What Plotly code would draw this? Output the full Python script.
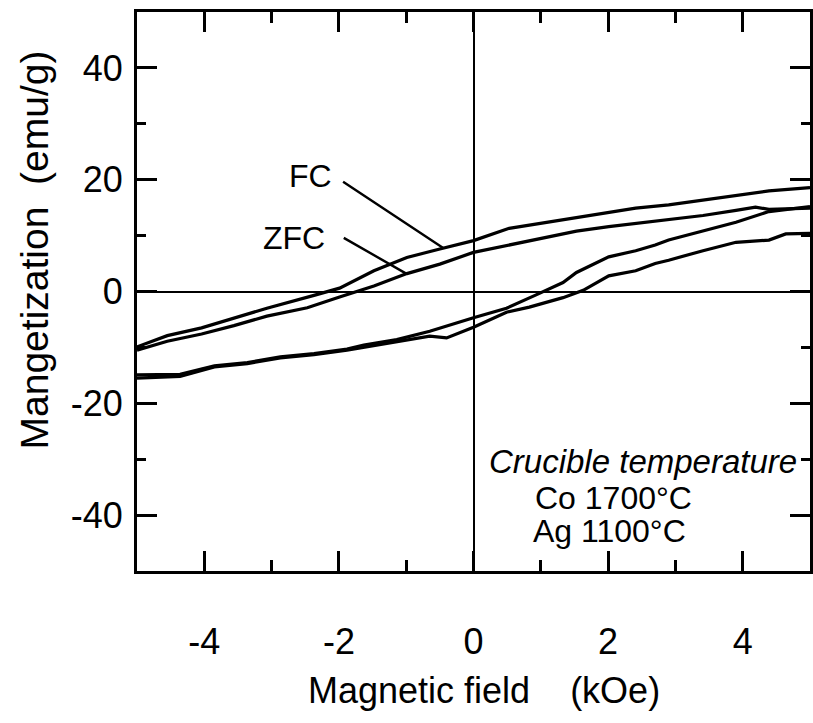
import plotly.graph_objects as go

# ---- data (field in kOe, magnetization in emu/g) ----
fc_desc_h = [-5.0, -4.55, -4.04, -3.56, -3.07, -2.37, -1.99, -1.48, -0.99, -0.50, 0.0,
             0.53, 1.04, 1.53, 2.01, 2.41, 2.90, 3.41, 3.90, 4.39, 5.0]
fc_desc_m = [-9.9, -7.9, -6.5, -4.7, -3.0, -0.7, 0.6, 3.7, 6.1, 7.6, 9.1,
             11.3, 12.3, 13.3, 14.2, 14.9, 15.5, 16.4, 17.2, 18.0, 18.6]

zfc_desc_h = [-5.0, -4.55, -4.04, -3.56, -3.07, -2.47, -1.99, -1.48, -0.99, -0.50, 0.0,
              0.53, 1.04, 1.53, 2.01, 2.41, 2.90, 3.41, 3.90, 4.19, 4.39, 5.0]
zfc_desc_m = [-10.5, -8.9, -7.6, -6.1, -4.4, -2.9, -1.0, 1.0, 3.2, 4.9, 7.0,
              8.3, 9.6, 10.8, 11.6, 12.2, 12.8, 13.6, 14.5, 15.1, 14.7, 14.9]

fc_asc_h = [-5.0, -4.36, -3.85, -3.36, -2.87, -2.37, -1.88, -1.63, -1.14, -0.65, 0.0,
            0.49, 0.93, 1.33, 1.53, 2.01, 2.41, 2.70, 2.90, 3.41, 3.90, 4.39, 5.0]
fc_asc_m = [-14.9, -14.8, -13.3, -12.7, -11.7, -11.1, -10.3, -9.6, -8.6, -7.1, -4.7,
            -3.0, -0.6, 1.6, 3.4, 6.2, 7.3, 8.3, 9.2, 10.9, 12.4, 14.3, 15.2]

zfc_asc_h = [-5.0, -4.36, -3.85, -3.36, -2.87, -2.37, -1.88, -1.63, -1.14, -0.65, -0.40, 0.0,
             0.49, 0.83, 1.33, 1.63, 2.01, 2.41, 2.70, 2.90, 3.41, 3.90, 4.39, 4.64, 5.0]
zfc_asc_m = [-15.5, -15.2, -13.5, -12.9, -11.9, -11.3, -10.5, -10.0, -9.0, -8.0, -8.3, -6.4,
             -3.7, -2.8, -1.1, 0.2, 2.8, 3.7, 5.0, 5.6, 7.3, 8.8, 9.2, 10.3, 10.4]

x_major_ticks = [-4, -2, 0, 2, 4]
x_minor_ticks = [-3, -1, 1, 3]
y_major_ticks = [-40, -20, 0, 20, 40]
y_minor_ticks = [-30, -10, 10, 30]

FONT = "Liberation Sans, Arial, Helvetica, sans-serif"
BLACK = "black"

fig = go.Figure()
for hx, my in [(fc_desc_h, fc_desc_m), (zfc_desc_h, zfc_desc_m),
               (fc_asc_h, fc_asc_m), (zfc_asc_h, zfc_asc_m)]:
    fig.add_trace(go.Scatter(x=hx, y=my, mode="lines",
                             line=dict(color=BLACK, width=3.2), hoverinfo="skip"))

axis_common = dict(
    showline=True, linecolor=BLACK, linewidth=2.8, mirror="ticks",
    ticks="inside", ticklen=20, tickwidth=2.6, tickcolor=BLACK,
    showgrid=False, zeroline=True, zerolinecolor=BLACK, zerolinewidth=2,
    tickfont=dict(family=FONT, size=36, color=BLACK),
)

fig.update_xaxes(range=[-5, 5], tickmode="array", tickvals=x_major_ticks,
                 ticktext=[("-" if v < 0 else "") + str(abs(v)) for v in x_major_ticks],
                 minor=dict(tickmode="array", tickvals=x_minor_ticks, ticks="inside",
                            ticklen=11, tickwidth=2.6, tickcolor=BLACK, showgrid=False),
                 ticklabelstandoff=37, **axis_common)
fig.update_yaxes(range=[-50, 50], tickmode="array", tickvals=y_major_ticks,
                 ticktext=[("-" if v < 0 else "") + str(abs(v)) for v in y_major_ticks],
                 minor=dict(tickmode="array", tickvals=y_minor_ticks, ticks="inside",
                            ticklen=9, tickwidth=2.6, tickcolor=BLACK, showgrid=False),
                 ticklabelstandoff=4, **axis_common)

nb = "\u00a0"
annotations = [
    # axis titles
    dict(text="Magnetic field" + nb * 4 + "(kOe)", xref="paper", yref="paper",
         x=(486 - 137) / 676, y=(571 - 690) / 559, xanchor="center", yanchor="middle",
         showarrow=False, font=dict(family=FONT, size=36, color=BLACK)),
    dict(text="Mangetization" + nb * 2 + "(emu/g)", xref="paper", yref="paper",
         x=(34 - 137) / 676, y=(571 - 250) / 559, xanchor="center", yanchor="middle",
         textangle=-90, showarrow=False, font=dict(family=FONT, size=39, color=BLACK)),
    # curve labels
    dict(text="FC", x=-2.42, y=20.7, xref="x", yref="y", showarrow=False,
         font=dict(family=FONT, size=32, color=BLACK)),
    dict(text="ZFC", x=-2.67, y=9.6, xref="x", yref="y", showarrow=False,
         font=dict(family=FONT, size=32, color=BLACK)),
    # pointer lines
    dict(text="", x=-0.45, y=7.8, ax=-1.96, ay=19.8, xref="x", yref="y",
         axref="x", ayref="y", showarrow=True, arrowhead=0, arrowwidth=2.4,
         arrowcolor=BLACK, standoff=0, startstandoff=0),
    dict(text="", x=-1.0, y=3.2, ax=-1.95, ay=9.75, xref="x", yref="y",
         axref="x", ayref="y", showarrow=True, arrowhead=0, arrowwidth=2.4,
         arrowcolor=BLACK, standoff=0, startstandoff=0),
    # crucible info
    dict(text="<i>Crucible temperature</i>", xref="paper", yref="paper",
         x=(489 - 137) / 676, y=(571 - 462) / 559, xanchor="left", yanchor="middle",
         showarrow=False, font=dict(family=FONT, size=33, color=BLACK)),
    dict(text="Co 1700°C", xref="paper", yref="paper",
         x=(535 - 137) / 676, y=(571 - 498) / 559, xanchor="left", yanchor="middle",
         showarrow=False, font=dict(family=FONT, size=32, color=BLACK)),
    dict(text="Ag 1100°C", xref="paper", yref="paper",
         x=(533 - 137) / 676, y=(571 - 531) / 559, xanchor="left", yanchor="middle",
         showarrow=False, font=dict(family=FONT, size=32, color=BLACK)),
]

fig.update_layout(
    width=813, height=723, autosize=False,
    margin=dict(l=137, r=0, t=12, b=152, pad=0),
    plot_bgcolor="white", paper_bgcolor="white",
    showlegend=False, annotations=annotations,
    font=dict(family=FONT, color=BLACK),
)

fig.write_html("out.html", config={"displayModeBar": False})
